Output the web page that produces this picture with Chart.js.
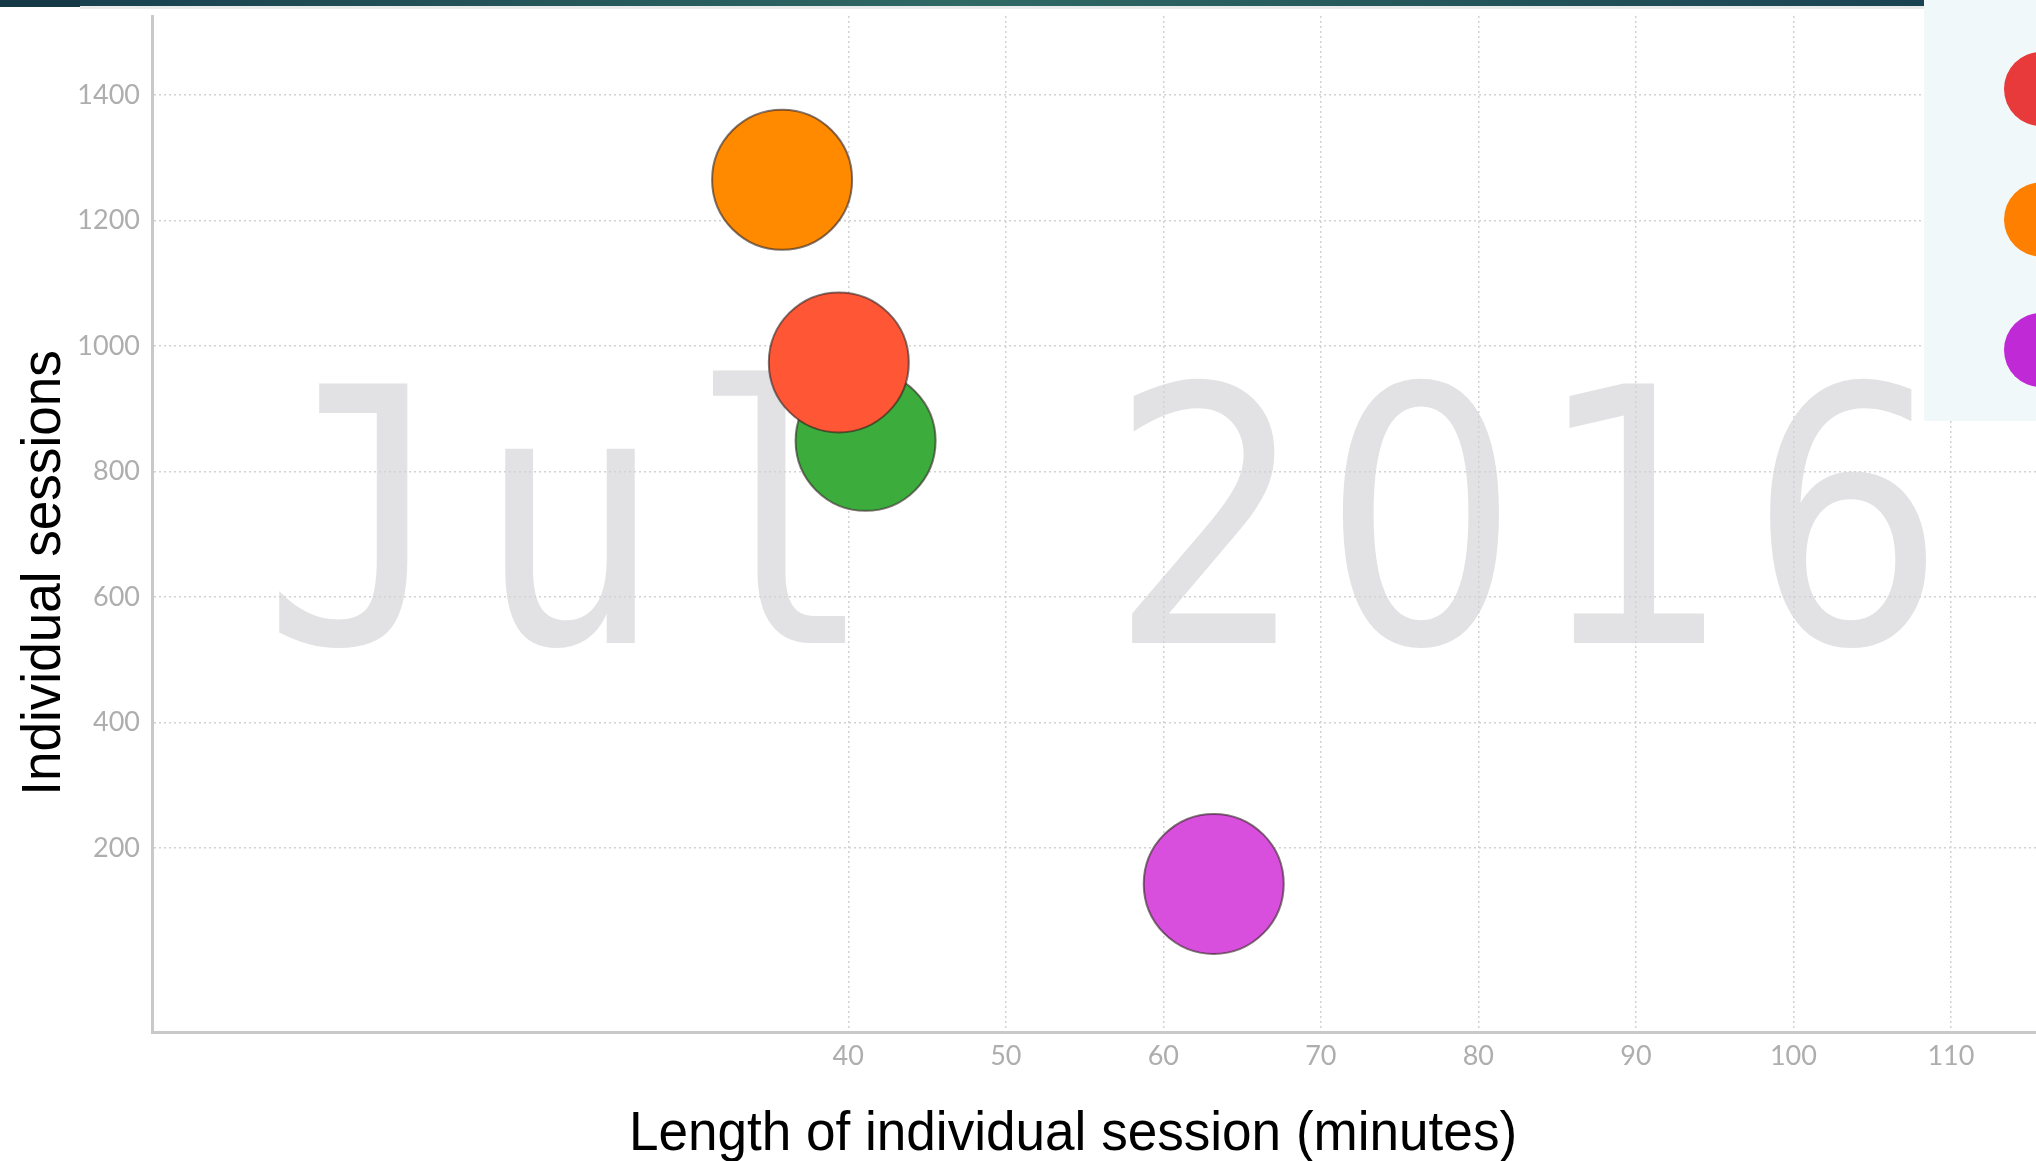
<!DOCTYPE html>
<html>
<head>
<meta charset="utf-8">
<script src="https://cdn.jsdelivr.net/npm/chart.js@4.4.0/dist/chart.umd.min.js"></script>
<style>
html, body { margin: 0; padding: 0; background: #fff; }
#wrap { width: 2036px; height: 1161px; position: relative; }
</style>
</head>
<body>
<div id="wrap"><canvas id="chart" width="2036" height="1161"></canvas></div>
<script>
// one bubble per group: session length (minutes) vs number of sessions
const sessionLength = [35.8, 41.1, 39.4, 63.2]
const sessions = [1265, 849, 974, 143]
const bubbleColors = ['#ff8a00', '#3cad3c', '#ff5736', '#d84fdd']

const xTicks = [40, 50, 60, 70, 80, 90, 100, 110]
const yTicks = [200, 400, 600, 800, 1000, 1200, 1400]

// legend swatches (labels are cut off at the right edge)
const legendColors = ['#e8393b', '#ff8000', '#c02ad6']

const periodLabel = 'Jul 2016'
const xTitle = 'Length of individual session (minutes)'
const yTitle = 'Individual sessions'

const tickFont = { family: 'Lato', size: 27 }
const tickColor = '#aeaeae'
const gridStyle = { color: '#d2d2d2', lineWidth: 1.5, drawTicks: false }
const axisBorder = { display: true, color: '#c9c9c9', width: 3, dash: [2, 3] }

// big period watermark, drawn glyph by glyph in fixed cells, under the grid
const backdrop = {
	id: 'backdrop',
	beforeDraw(chart) {
		const ctx = chart.ctx
		ctx.save()
		ctx.fillStyle = '#fff'
		ctx.fillRect(0, 0, chart.width, chart.height)
		ctx.fillStyle = '#e2e1e4'
		ctx.textBaseline = 'alphabetic'
		ctx.textAlign = 'center'
		const cell = 213
		periodLabel.split('').forEach((ch, i) => {
			if (ch === ' ') return
			// plain (undotted) zero: take digits from the proportional face
			const face = /[0-9]/.test(ch) ? '"DejaVu Sans"' : '"DejaVu Sans Mono"'
			ctx.save()
			ctx.translate(356 + i * cell, 643)
			ctx.scale(0.87, 1)
			ctx.font = '356px ' + face
			ctx.fillText(ch, 0, 0)
			ctx.restore()
		})
		ctx.restore()
	}
}

// header strip, cut-off legend panel and axis titles
const overlay = {
	id: 'overlay',
	afterDraw(chart) {
		const ctx = chart.ctx
		ctx.save()

		let g = ctx.createLinearGradient(0, 0, 1924, 0)
		g.addColorStop(0, '#173d4d')
		g.addColorStop(0.5, '#2f6964')
		g.addColorStop(1, '#1a4352')
		ctx.fillStyle = '#e9eceb'
		ctx.fillRect(80, 6, 1844, 3)
		ctx.fillStyle = g
		ctx.fillRect(0, 0, 1924, 6)
		ctx.fillStyle = '#163947'
		ctx.fillRect(0, 0, 80, 7)

		ctx.fillStyle = '#f1f8fa'
		ctx.fillRect(1924, 0, chart.width - 1924, 421)
		legendColors.forEach((c, i) => {
			ctx.beginPath()
			ctx.arc(2041, 89 + i * 130.5, 37, 0, Math.PI * 2)
			ctx.fillStyle = c
			ctx.fill()
		})

		ctx.fillStyle = '#000'
		ctx.font = '56px "Liberation Sans", Arial, sans-serif'
		ctx.textAlign = 'center'
		ctx.textBaseline = 'alphabetic'

		ctx.save()
		ctx.translate(1073, 1150)
		ctx.scale(0.948, 1)
		ctx.fillText(xTitle, 0, 0)
		ctx.restore()

		ctx.save()
		ctx.translate(60, 573)
		ctx.rotate(-Math.PI / 2)
		ctx.scale(0.948, 1)
		ctx.fillText(yTitle, 0, 0)
		ctx.restore()

		ctx.restore()
	}
}

const points = sessionLength.map((x, i) => ({ x: x, y: sessions[i] }))

new Chart(document.getElementById('chart'), {
	type: 'bubble',
	data: {
		datasets: [{
			data: points,
			backgroundColor: bubbleColors,
			borderColor: 'rgba(45, 30, 30, 0.6)',
			borderWidth: 2,
			radius: 70,
			hoverRadius: 0
		}]
	},
	options: {
		responsive: false,
		devicePixelRatio: 1,
		animation: false,
		events: [],
		layout: { autoPadding: false, padding: { top: 16, right: 0, bottom: 0, left: 0 } },
		plugins: { legend: { display: false }, tooltip: { enabled: false } },
		scales: {
			x: {
				type: 'linear',
				min: -4.2,
				max: 115.4,
				grid: gridStyle,
				border: axisBorder,
				afterBuildTicks: (axis) => { axis.ticks = xTicks.map(v => ({ value: v })) },
				afterFit: (axis) => {
					axis.height = 129
					axis.paddingLeft = 0
					axis.paddingRight = 0
				},
				ticks: { font: tickFont, color: tickColor, padding: 8, maxRotation: 0, callback: v => String(v) }
			},
			y: {
				type: 'linear',
				min: -93,
				max: 1526,
				grid: gridStyle,
				border: axisBorder,
				afterBuildTicks: (axis) => { axis.ticks = yTicks.map(v => ({ value: v })) },
				afterFit: (axis) => {
					axis.width = 152
					axis.paddingTop = 0
					axis.paddingBottom = 0
				},
				ticks: { font: tickFont, color: tickColor, padding: 12, callback: v => String(v) }
			}
		}
	},
	plugins: [backdrop, overlay]
})
</script>
</body>
</html>
